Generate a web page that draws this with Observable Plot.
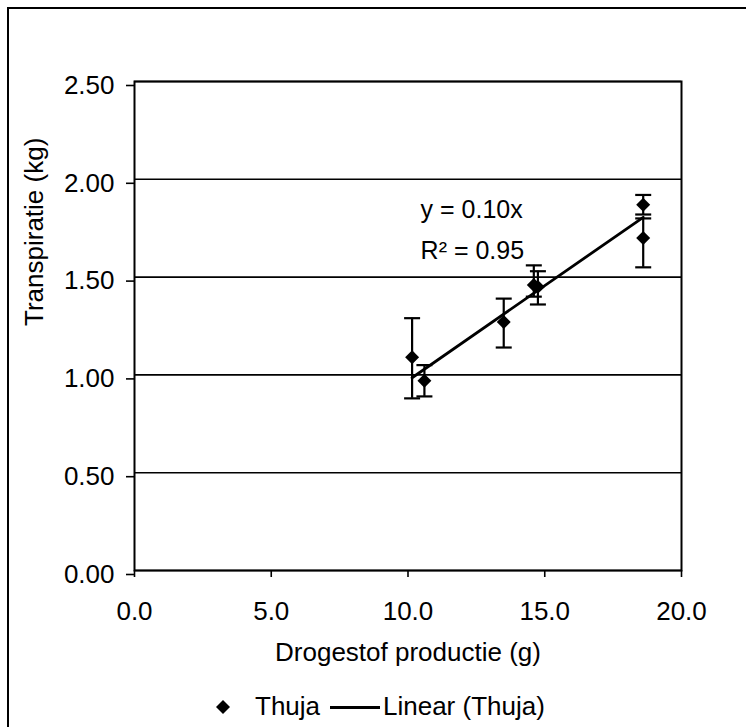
<!DOCTYPE html>
<html>
<head>
<meta charset="utf-8">
<script src="https://cdn.jsdelivr.net/npm/d3@7"></script>
<script src="https://cdn.jsdelivr.net/npm/@observablehq/plot@0.6"></script>
<style>
  html, body { margin: 0; padding: 0; background: #fff; }
  #wrap { position: relative; width: 746px; height: 727px; overflow: hidden; font-family: "Liberation Sans", Arial, sans-serif; }
  #border { position: absolute; left: 7px; top: 7px; right: 0; bottom: 0; border-top: 2px solid #000; border-left: 2px solid #000; }
  #chart { position: absolute; left: 0; top: 0; }
  .leg { position: absolute; font-size: 26px; line-height: 26px; color: #000; white-space: nowrap; }
</style>
</head>
<body>
<div id="wrap">
  <div id="border"></div>
  <div id="chart"></div>
</div>
<script>
// ---- data ----
const drogestof   = [10.15, 10.6, 13.5, 14.6, 14.75, 18.6, 18.6];   // x (g)
const transpiratie = [1.09, 0.97, 1.27, 1.46, 1.45, 1.87, 1.70];    // y (kg)
const errHigh     = [1.29, 1.05, 1.39, 1.56, 1.53, 1.92, 1.80];
const errLow      = [0.88, 0.89, 1.14, 1.40, 1.36, 1.82, 1.55];

const xTicks = [0, 5, 10, 15, 20];
const yTicks = [0, 0.5, 1.0, 1.5, 2.0, 2.5];

const xTitle = "Drogestof productie (g)";
const yTitle = "Transpiratie (kg)";
const seriesName = "Thuja";
const trendName = "Linear (Thuja)";
const annoText = ["y = 0.10x", "R\u00b2 = 0.95"];
const annoX = [10.46, 10.46];
const annoY = [1.845, 1.634];

// ---- build table ----
const points = drogestof.map((x, i) => ({x, y: transpiratie[i], hi: errHigh[i], lo: errLow[i]}));

// linear trend through origin (least squares)
const sxy = d3.sum(points, d => d.x * d.y);
const sxx = d3.sum(points, d => d.x * d.x);
const slope = sxy / sxx;
const xExt = d3.extent(drogestof);
const trend = xExt.map(x => ({x, y: slope * x}));

const annos = annoText.map((t, i) => ({t, x: annoX[i], y: annoY[i]}));

const capSymbol = {
  draw(ctx, size) {
    const w = Math.sqrt(size / Math.PI);
    ctx.moveTo(-w, 0);
    ctx.lineTo(w, 0);
  }
};

const FONT = "Liberation Sans, Arial, sans-serif";

const chart = Plot.plot({
  width: 746,
  height: 690,
  marginLeft: 134,
  marginRight: 65,
  marginTop: 81,
  marginBottom: 120,
  style: {fontFamily: FONT, fontSize: "26px", color: "#000", background: "transparent", overflow: "visible"},
  x: {domain: [0, 20]},
  y: {domain: [0, 2.5]},
  marks: [
    Plot.ruleY(yTicks, {stroke: "#000", strokeWidth: 1.6}),
    Plot.frame({stroke: "#000", strokeWidth: 2}),
    Plot.axisY(yTicks, {tickSize: 8, tickPadding: 12, tickFormat: d3.format(".2f"), fontSize: 26, dy: 4, strokeWidth: 1.6, label: null}),
    Plot.axisX(xTicks, {tickSize: 7, tickPadding: 24, tickFormat: d3.format(".1f"), fontSize: 26, strokeWidth: 1.6, label: null}),
    Plot.text([xTitle], {frameAnchor: "bottom", dy: 90, fontSize: 26, text: d => d}),
    Plot.text([yTitle], {frameAnchor: "left", dx: -100, rotate: -90, fontSize: 26, text: d => d}),
    // error bars
    Plot.ruleX(points, {x: "x", y1: "lo", y2: "hi", stroke: "#000", strokeWidth: 2.2}),
    Plot.dot(points, {x: "x", y: "hi", symbol: capSymbol, r: 8, fill: "none", stroke: "#000", strokeWidth: 2.2}),
    Plot.dot(points, {x: "x", y: "lo", symbol: capSymbol, r: 8, fill: "none", stroke: "#000", strokeWidth: 2.2}),
    // trend line
    Plot.line(trend, {x: "x", y: "y", stroke: "#000", strokeWidth: 2.8}),
    // points
    Plot.dot(points, {x: "x", y: "y", symbol: "diamond2", r: 6.3, fill: "#000", stroke: "none"}),
    // equation
    Plot.text(annos, {x: "x", y: "y", text: "t", textAnchor: "start", fontSize: 25})
  ]
});
document.getElementById("chart").appendChild(chart);

// ---- legend (HTML, below the svg) ----
const wrap = document.getElementById("wrap");
function add(html, left, top, cls) {
  const el = document.createElement("div");
  if (cls) el.className = cls;
  el.style.position = "absolute";
  el.style.left = left + "px";
  el.style.top = top + "px";
  el.innerHTML = html;
  wrap.appendChild(el);
  return el;
}
add('<svg width="16" height="16"><polygon points="8,1 15,8 8,15 1,8" fill="#000"/></svg>', 215, 699);
add(seriesName, 255, 693, "leg");
add('<div style="width:50px;height:2.5px;background:#000"></div>', 330, 706);
add(trendName, 383, 693, "leg");
</script>
</body>
</html>
